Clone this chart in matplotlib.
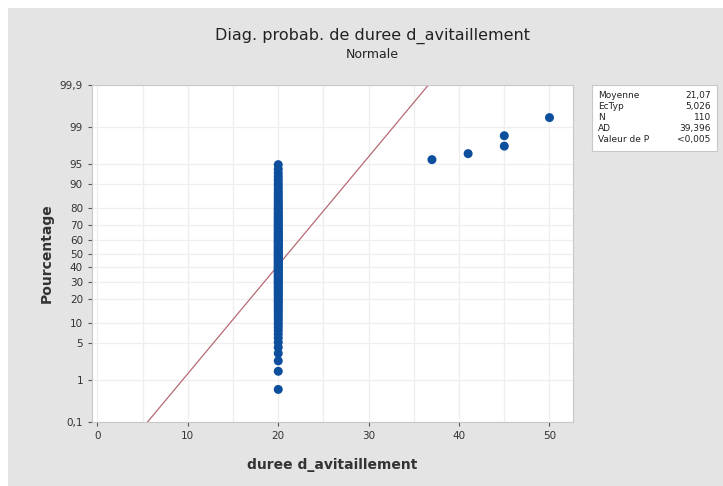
import numpy as np
import matplotlib.pyplot as plt
from statistics import NormalDist

# durations (105 values at 20, then the outliers)
durations = [20] * 105 + [37, 41, 45, 45, 50]
pct_ticks = [0.1, 1, 5, 10, 20, 30, 40, 50, 60, 70, 80, 90, 95, 99, 99.9]
pct_labels = ["0,1", "1", "5", "10", "20", "30", "40", "50", "60", "70", "80", "90", "95", "99", "99,9"]
x_ticks = [0, 10, 20, 30, 40, 50]
stat_names = ["Moyenne", "EcTyp", "N", "AD", "Valeur de P"]
stat_values = ["21,07", "5,026", "110", "39,396", "<0,005"]

nd = NormalDist()
x = np.sort(np.array(durations, dtype=float))
n = len(x)
mu, sd = x.mean(), x.std(ddof=1)
# median ranks (Benard), as minitab does
p = (np.arange(1, n + 1) - 0.3) / (n + 0.4)
z = np.array([nd.inv_cdf(v) for v in p])

fig = plt.figure(figsize=(7.23, 4.86), dpi=100)
fig.patch.set_facecolor("white")
# grey panel with white strip top/left
bg = fig.add_axes([8 / 723, 0, 1 - 8 / 723, 1 - 8 / 486], zorder=-5)
bg.set_facecolor("#e4e4e4")
bg.set_xticks([])
bg.set_yticks([])
for s in bg.spines.values():
    s.set_visible(False)

ax = fig.add_axes([92 / 723, 1 - 422 / 486, (573 - 92) / 723, (422 - 85) / 486])
ax.set_facecolor("white")

zlo, zhi = nd.inv_cdf(0.001), nd.inv_cdf(0.999)
ax.set_ylim(zlo, zhi)
ax.set_xlim(-0.6, 52.6)

ax.set_yticks([nd.inv_cdf(t / 100) for t in pct_ticks])
ax.set_yticklabels(pct_labels)
ax.set_xticks(x_ticks)
ax.set_xticks(np.arange(5, 52, 10), minor=True)
ax.tick_params(which="minor", length=0)
ax.grid(True, which="both", color="#eeeeee", lw=0.9)
ax.set_axisbelow(True)

# fitted line
xl = np.array([mu + zlo * sd, mu + zhi * sd])
ax.plot(xl, (xl - mu) / sd, color="#b86a74", lw=0.9, zorder=2)

ax.scatter(x, z, s=42, color="#0d4f9c", edgecolors="none", zorder=3)

for s in ax.spines.values():
    s.set_color("#c8c8c8")
ax.tick_params(colors="#555555", labelsize=7.5, length=3, labelcolor="#333333")

ax.set_xlabel("duree d_avitaillement", fontsize=10, fontweight="bold", color="#333333", labelpad=12)
ax.set_ylabel("Pourcentage", fontsize=10, fontweight="bold", color="#333333", labelpad=4)

fig.text(0.515, 1 - 36 / 486, "Diag. probab. de duree d_avitaillement", ha="center", va="center",
         fontsize=11.5, color="#222222")
fig.text(0.515, 1 - 55 / 486, "Normale", ha="center", va="center", fontsize=9, color="#222222")

# stats box
bx = fig.add_axes([592 / 723, 1 - 151 / 486, (717 - 592) / 723, (151 - 85) / 486])
bx.set_xticks([])
bx.set_yticks([])
bx.set_facecolor("white")
for s in bx.spines.values():
    s.set_color("#c8c8c8")
for i, (k, v) in enumerate(zip(stat_names, stat_values)):
    yy = 0.84 - i * 0.165
    bx.text(0.05, yy, k, fontsize=6.5, va="center", color="#222222")
    bx.text(0.95, yy, v, fontsize=6.5, va="center", ha="right", color="#222222")

fig.savefig("out.png", dpi=100, facecolor=fig.get_facecolor())
